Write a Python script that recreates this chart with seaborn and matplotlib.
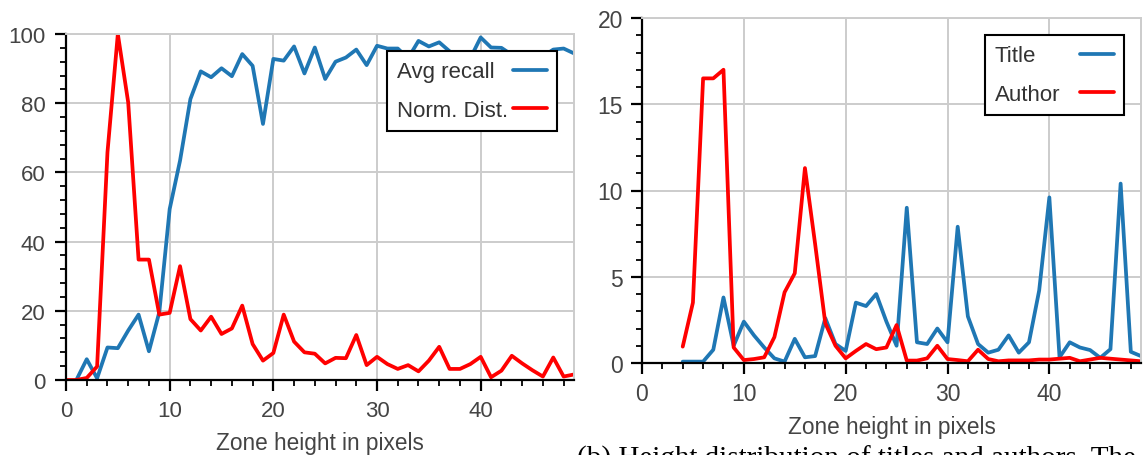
import numpy as np
import pandas as pd
import seaborn as sns
import matplotlib
matplotlib.use("Agg")
import matplotlib.pyplot as plt
from matplotlib.ticker import MultipleLocator

# ---------------- data ----------------
recall_x = list(range(1, 50))
avg_recall = [0, 6, 0.5, 9.4, 9.2, 14.3, 18.9, 8.3, 19.6, 49.4,
              63.4, 81.2, 89.2, 87.5, 90.1, 87.8, 94.2, 90.8, 74.0, 92.8,
              92.3, 96.4, 88.6, 96.1, 87.0, 92.0, 93.2, 95.5, 91.0, 96.6,
              95.8, 95.8, 93.0, 98.0, 96.4, 97.6, 95.0, 93.5, 93.0, 99.0,
              96.1, 96.0, 94.0, 93.0, 94.0, 93.5, 95.5, 95.8, 94.4]

norm_x = list(range(0, 50))
norm_dist = [0, 0, 0.6, 3.9, 65.8, 100, 80.2, 34.8, 34.8, 18.9,
             19.4, 32.9, 17.6, 14.3, 18.3, 13.3, 14.9, 21.5, 10.4, 5.6,
             7.8, 18.9, 11.1, 8.0, 7.6, 4.8, 6.4, 6.3, 13.0, 4.3,
             6.7, 4.6, 3.2, 4.3, 2.5, 5.6, 9.6, 3.2, 3.2, 4.6,
             6.7, 0.8, 2.7, 7.0, 4.8, 2.8, 1.0, 6.5, 1.0, 1.6]

dist_x = list(range(4, 50))
title = [0.08, 0.08, 0.08, 0.77, 3.8, 1.0, 2.4, 1.6, 0.9, 0.27,
         0.08, 1.4, 0.33, 0.4, 2.6, 1.1, 0.7, 3.5, 3.3, 4.0,
         2.4, 1.0, 9.0, 1.2, 1.1, 2.0, 1.2, 7.9, 2.7, 1.1,
         0.6, 0.77, 1.6, 0.6, 1.2, 4.2, 9.6, 0.33, 1.2, 0.9,
         0.75, 0.3, 0.8, 10.4, 0.65, 0.4]
author = [0.95, 3.5, 16.5, 16.5, 17.0, 0.9, 0.17, 0.23, 0.33, 1.5,
          4.1, 5.2, 11.3, 6.9, 2.3, 1.0, 0.27, 0.7, 1.1, 0.8,
          0.9, 2.2, 0.14, 0.14, 0.27, 1.0, 0.23, 0.17, 0.1, 0.77,
          0.23, 0.1, 0.15, 0.15, 0.15, 0.2, 0.2, 0.25, 0.3, 0.1,
          0.2, 0.3, 0.25, 0.2, 0.15, 0.1]

left_labels = ["Avg recall", "Norm. Dist."]
right_labels = ["Title", "Author"]
xlabel_text = "Zone height in pixels"
caption_text = "(b) Height distribution of titles and authors. The"

BLUE = "#1f77b4"
RED = "#ff0000"
GRID = "#cccccc"
TXT = "#444444"

sns.set_theme(style="white")
plt.rcParams["font.family"] = ["Liberation Sans", "DejaVu Sans"]

W, H = 1143, 456
fig = plt.figure(figsize=(W / 100, H / 100), dpi=100)

def px_axes(x0, x1, ytop, ybot):
    return fig.add_axes([x0 / W, 1 - ybot / H, (x1 - x0) / W, (ybot - ytop) / H])

ax1 = px_axes(66, 574, 35, 381)
ax2 = px_axes(642, 1141, 19, 364)

df_rec = pd.DataFrame({"x": recall_x, "y": avg_recall})
df_norm = pd.DataFrame({"x": norm_x, "y": norm_dist})
df_t = pd.DataFrame({"x": dist_x, "y": title})
df_a = pd.DataFrame({"x": dist_x, "y": author})

lw = 2.7
sns.lineplot(data=df_rec, x="x", y="y", ax=ax1, color=BLUE, linewidth=lw, label=left_labels[0])
sns.lineplot(data=df_norm, x="x", y="y", ax=ax1, color=RED, linewidth=lw, label=left_labels[1])
sns.lineplot(data=df_t, x="x", y="y", ax=ax2, color=BLUE, linewidth=lw, label=right_labels[0])
sns.lineplot(data=df_a, x="x", y="y", ax=ax2, color=RED, linewidth=lw, label=right_labels[1])

legends = []

def style(ax, ymax, ymajor, yminor, tsize, hpad, tpad, lpad):
    ax.set_xlim(0, 49)
    ax.set_ylim(0, ymax)
    ax.xaxis.set_major_locator(MultipleLocator(10))
    ax.xaxis.set_minor_locator(MultipleLocator(2))
    ax.yaxis.set_major_locator(MultipleLocator(ymajor))
    ax.yaxis.set_minor_locator(MultipleLocator(yminor))
    ax.grid(True, which="major", color=GRID, linewidth=1.4)
    ax.set_axisbelow(True)
    for s in ["top", "right"]:
        ax.spines[s].set_color(GRID)
        ax.spines[s].set_linewidth(1.4)
    for s in ["left", "bottom"]:
        ax.spines[s].set_color("black")
        ax.spines[s].set_linewidth(1.6)
    ax.tick_params(which="major", direction="out", length=7.8, width=1.6,
                   color="black", labelsize=tsize, labelcolor=TXT, pad=tpad,
                   bottom=True, left=True)
    ax.tick_params(which="minor", direction="out", length=4.3, width=1.3,
                   color="black", bottom=True, left=True)
    ax.set_ylabel("")
    ax.set_xlabel(xlabel_text, fontsize=16.3, color=TXT, labelpad=lpad)
    leg = ax.legend(loc="upper right", markerfirst=False, frameon=True,
                    fancybox=False, edgecolor="black", framealpha=1,
                    fontsize=16, handlelength=1.5, handletextpad=hpad,
                    borderaxespad=0.78, borderpad=0.45, labelspacing=0.8)
    leg.get_frame().set_linewidth(1.5)
    for t in leg.get_texts():
        t.set_color("#333333")
    legends.append(leg)

style(ax1, 100, 20, 4, 16, 0.25, 6.8, 7)
style(ax2, 20, 5, 1, 16.5, 0.9, 5.8, 7)

# Left-align legend texts while keeping line handles flush right
fig.canvas.draw()
r = fig.canvas.get_renderer()
for leg in legends:
    for col in leg._legend_handle_box.get_children():
        entries = col.get_children()
        wmax = max(e.get_bbox(r).width for e in entries)
        for e in entries:
            e.mode = "expand"
            e.width = wmax

fig.text(577 / W, 1 - 467 / H, caption_text, family=["Liberation Serif", "DejaVu Serif"],
         fontsize=21, ha="left", va="baseline", color="black")

fig.savefig("out.png", dpi=100)
